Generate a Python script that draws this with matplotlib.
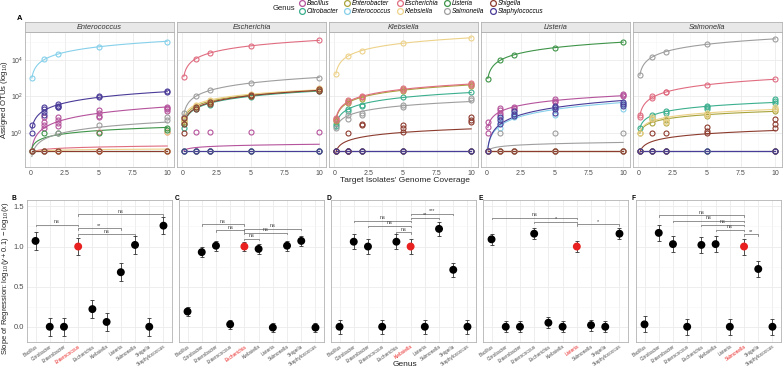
import matplotlib.pyplot as plt
import numpy as np

plt.rcParams['font.family'] = ['Liberation Sans', 'DejaVu Sans']
plt.rcParams['mathtext.fontset'] = 'custom'
plt.rcParams['mathtext.rm'] = 'Liberation Sans'
plt.rcParams['mathtext.it'] = 'Liberation Sans:italic'

genera = ['Bacillus', 'Citrobacter', 'Enterobacter', 'Enterococcus', 'Escherichia',
          'Klebsiella', 'Listeria', 'Salmonella', 'Shigella', 'Staphylococcus']
colors = ['#B5539C', '#3BAF8E', '#A8A33A', '#86D0EA', '#E06C80',
          '#EDD28A', '#3E9448', '#9E9E9E', '#8C3B2E', '#4A3B98']
facets = ['Enterococcus', 'Escherichia', 'Klebsiella', 'Listeria', 'Salmonella']
coverage = [0.1, 1, 2, 5, 10]

# assigned OTUs as log10(y + 0.1); -1 means no reads. One replicate list per coverage.
no_reads = [[-1], [-1], [-1], [-1], [-1]]

otus_enterococcus = {
    'Bacillus': [[-1], [0.85, 0.6, 0.45, 0.3], [0.9, 0.7, 0.55, 0.4], [1.25, 1.1, 0.95, 0.85], [1.45, 1.35, 1.3, 1.2]],
    'Citrobacter': no_reads,
    'Enterobacter': no_reads,
    'Enterococcus': [[3.0], [4.04], [4.33], [4.73], [5.0]],
    'Escherichia': [[-1], [-1], [-1], [-1, -1, 0.04], [-1, -1, 0.04]],
    'Klebsiella': [[-1], [-1], [-1], [-1], [-1, -1, -1, 0.04]],
    'Listeria': [[-1], [0.0], [0.0], [0.0], [0.3, 0.15]],
    'Salmonella': [[-1], [-1], [0.0], [0.45], [0.85, 0.7]],
    'Shigella': no_reads,
    'Staphylococcus': [[0.45, 0.02], [1.4, 1.3, 1.15, 1.0], [1.6, 1.5, 1.45, 1.4], [2.05, 1.95], [2.3, 2.25]],
}
otus_escherichia = {
    'Bacillus': [[-1], [-1, -1, -1, 0.04], [-1, -1, -1, 0.04], [-1, -1, 0.04], [-1, -1, 0.04]],
    'Citrobacter': [[0.5, 0.3], [1.3, 1.4], [1.55, 1.65], [1.95, 2.05], [2.3, 2.35]],
    'Enterobacter': [[0.7, 0.6], [1.4, 1.5], [1.65, 1.75], [2.05, 2.1], [2.35, 2.4]],
    'Enterococcus': no_reads,
    'Escherichia': [[3.09], [4.07], [4.38], [4.78], [5.07]],
    'Klebsiella': [[0.9, 0.7], [1.5, 1.55], [1.8, 1.7], [2.1, 2.15], [2.4, 2.45]],
    'Listeria': no_reads,
    'Salmonella': [[1.09, 0.9], [2.03], [2.34], [2.74], [3.03]],
    'Shigella': [[0.8, 0.5, 0.0], [1.3, 1.45], [1.6, 1.7], [2.0, 2.1], [2.3, 2.4]],
    'Staphylococcus': no_reads,
}
otus_klebsiella = {
    'Bacillus': no_reads,
    'Citrobacter': [[0.5, 0.4], [1.3, 1.2], [1.55, 1.5], [1.96], [2.27]],
    'Enterobacter': [[0.75, 0.65], [1.75, 1.65], [1.95, 1.85], [2.4, 2.3], [2.7, 2.6]],
    'Enterococcus': no_reads,
    'Escherichia': [[0.8, 0.7], [1.8, 1.7], [2.0, 1.95], [2.45, 2.35], [2.72, 2.65]],
    'Klebsiella': [[3.22], [4.22], [4.51], [4.91], [5.22]],
    'Listeria': no_reads,
    'Salmonella': [[0.27], [1.0, 0.75], [1.09, 1.0], [1.55, 1.45], [1.9, 1.8]],
    'Shigella': [[-1, -1], [0.0, -1, -1], [0.5, 0.45, -1], [0.45, 0.3, 0.05, -1], [0.85, 0.7, 0.6, -1]],
    'Staphylococcus': no_reads,
}
otus_listeria = {
    'Bacillus': [[0.6, 0.35, 0.0], [1.35, 1.25, 1.1, 1.0], [1.45, 1.35, 1.27], [1.85, 1.78, 1.72], [2.15, 2.08, 2.03]],
    'Citrobacter': no_reads,
    'Enterobacter': no_reads,
    'Enterococcus': [[-1], [0.8, 0.55, 0.27], [1.1, 1.0, 0.9], [1.45, 1.3, 1.0], [1.65, 1.55, 1.3]],
    'Escherichia': no_reads,
    'Klebsiella': no_reads,
    'Listeria': [[2.98], [3.98], [4.29], [4.67], [4.97]],
    'Salmonella': [[-1], [0.0, -1], [-1], [0.0, -1], [0.0, -1]],
    'Shigella': no_reads,
    'Staphylococcus': [[-1], [0.9, 0.7, 0.5], [1.2, 1.05, 0.95], [1.5, 1.4, 1.3, 1.1], [1.7, 1.6, 1.5]],
}
otus_salmonella = {
    'Bacillus': no_reads,
    'Citrobacter': [[0.27], [1.0, 0.9], [1.2, 1.1], [1.5, 1.4, 1.3], [1.85, 1.75, 1.65]],
    'Enterobacter': [[0.0], [0.75, 0.55], [0.7, 0.55], [1.05, 0.95], [1.3, 1.2]],
    'Enterococcus': no_reads,
    'Escherichia': [[1.0, 0.85], [2.0, 1.92], [2.27, 2.22], [2.63], [2.94]],
    'Klebsiella': [[0.0], [0.9, 0.75], [0.8, 0.6], [1.1, 1.0], [1.4, 1.3]],
    'Listeria': no_reads,
    'Salmonella': [[3.16], [4.16], [4.46], [4.86], [5.15]],
    'Shigella': [[-1], [0.0, -1], [0.0, -1], [0.35, 0.1, 0.0], [0.75, 0.5, 0.3, -1]],
    'Staphylococcus': no_reads,
}
otus_by_facet = [otus_enterococcus, otus_escherichia, otus_klebsiella, otus_listeria, otus_salmonella]

# regression slopes (normalised to the facet's own genus) with error bars
slope_B = [1.07, 0.0, 0.0, 1.0, 0.22, 0.06, 0.68, 1.02, 0.0, 1.26]
slope_C = [0.19, 0.93, 1.01, 0.03, 1.0, 0.97, -0.01, 1.01, 1.07, -0.01]
slope_D = [0.0, 1.06, 1.0, 0.0, 1.06, 1.0, 0.0, 1.22, 0.71, 0.0]
slope_E = [1.09, 0.0, 0.0, 1.16, 0.05, 0.0, 1.0, 0.02, 0.0, 1.16]
slope_F = [0.03, 1.17, 1.03, 0.0, 1.02, 1.03, 0.0, 1.0, 0.72, 0.0]
err_B, err_C, err_D, err_E, err_F = 0.11, 0.06, 0.09, 0.07, 0.10

brackets_B = [('Bacillus', 'Enterococcus', 1.27, 'ns'), ('Enterococcus', 'Staphylococcus', 1.40, 'ns'),
              ('Enterococcus', 'Listeria', 1.23, '**'), ('Enterococcus', 'Salmonella', 1.15, 'ns')]
brackets_C = [('Citrobacter', 'Escherichia', 1.28, 'ns'), ('Enterobacter', 'Escherichia', 1.20, 'ns'),
              ('Escherichia', 'Shigella', 1.22, 'ns'), ('Escherichia', 'Salmonella', 1.17, 'ns'),
              ('Escherichia', 'Klebsiella', 1.10, 'ns')]
brackets_D = [('Citrobacter', 'Klebsiella', 1.32, 'ns'), ('Enterobacter', 'Klebsiella', 1.26, 'ns'),
              ('Escherichia', 'Klebsiella', 1.18, 'ns'), ('Klebsiella', 'Salmonella', 1.36, '**'),
              ('Klebsiella', 'Shigella', 1.41, '***')]
brackets_E = [('Bacillus', 'Listeria', 1.36, 'ns'), ('Enterococcus', 'Listeria', 1.31, '*'),
              ('Listeria', 'Staphylococcus', 1.28, '*')]
brackets_F = [('Citrobacter', 'Salmonella', 1.39, 'ns'), ('Enterobacter', 'Salmonella', 1.32, 'ns'),
              ('Escherichia', 'Salmonella', 1.27, 'ns'), ('Klebsiella', 'Salmonella', 1.21, 'ns'),
              ('Salmonella', 'Shigella', 1.15, '**')]

W, H = 784, 371
fig = plt.figure(figsize=(W / 100, H / 100), dpi=100)

def px_axes(x0, y0, w, h):
    return fig.add_axes([x0 / W, 1 - (y0 + h) / H, w / W, h / H])

frame_col = '#B3B3B3'
grid_col = '#EBEBEB'
txt_col = '#4D4D4D'

# ---- panel A ----
lefts = [25, 177, 329, 481, 633]
logcov = np.log10(coverage)
xx = np.linspace(0.1, 10, 300)
for i, (left, name, data) in enumerate(zip(lefts, facets, otus_by_facet)):
    ax = px_axes(left, 32, 149, 135)
    for g, c in zip(genera, colors):
        reps = data[g]
        for cov, r in zip(coverage, reps):
            ax.plot([cov] * len(r), r, 'o', mfc='none', mec=c, ms=3.6, mew=0.8, zorder=3)
        means = [np.mean(r) for r in reps]
        b, a = np.polyfit(logcov, means, 1)
        ax.plot(xx, a + b * np.log10(xx), color=c, lw=0.8, zorder=2)
    ax.set_xlim(-0.4, 10.5)
    ax.set_ylim(-1.86, 5.53)
    ax.set_xticks([0, 2.5, 5, 7.5, 10])
    ax.set_xticklabels(['0', '2.5', '5', '7.5', '10'])
    ax.set_yticks([0, 2, 4])
    ax.set_yticks([-1, 1, 3, 5], minor=True)
    ax.set_xticks([1.25, 3.75, 6.25, 8.75], minor=True)
    if i == 0:
        ax.set_yticklabels(['$10^0$', '$10^2$', '$10^4$'])
    else:
        ax.set_yticklabels([])
    ax.tick_params(which='both', length=0, labelsize=5, colors=txt_col, pad=2)
    ax.tick_params(axis='y', labelsize=5, pad=1.5)
    ax.grid(which='major', color=grid_col, lw=0.6)
    ax.grid(which='minor', color='#F5F5F5', lw=0.4)
    ax.set_axisbelow(True)
    for s in ax.spines.values():
        s.set_color(frame_col)
        s.set_linewidth(0.6)
    strip = px_axes(left, 22, 149, 10)
    strip.set_facecolor('#E8E8E8')
    strip.set_xticks([])
    strip.set_yticks([])
    for s in strip.spines.values():
        s.set_color(frame_col)
        s.set_linewidth(0.6)
    strip.text(0.5, 0.45, name, ha='center', va='center', fontsize=5.3, style='italic',
               color='#333333', transform=strip.transAxes)

fig.text(20 / W, 1 - 18 / H, 'A', fontsize=5.5, fontweight='bold', ha='center', va='center')
fig.text(5 / W, 1 - 100 / H, 'Assigned OTUs (log$_{10}$)', rotation=90, fontsize=5.5,
         ha='center', va='center', color='#222222')
fig.text(405 / W, 1 - 181 / H, "Target Isolates' Genome Coverage", fontsize=6,
         ha='center', va='center', color='#222222')

handles = [plt.Line2D([], [], ls='none', marker='o', mfc='none', mec=c, ms=4.2, mew=0.9)
           for c in colors]
fig.legend(handles, genera, ncol=5, loc='upper left', bbox_to_anchor=(293 / W, 1.012),
           frameon=False, prop={'style': 'italic', 'size': 4.7}, handletextpad=0.15,
           columnspacing=0.6, labelspacing=0.15, handlelength=1.3, borderpad=0.2)
fig.text(273 / W, 1 - 8 / H, 'Genus', fontsize=5.5, ha='left', va='center', color='#222222')

# ---- panels B-F ----
slopes = [slope_B, slope_C, slope_D, slope_E, slope_F]
errs = [err_B, err_C, err_D, err_E, err_F]
brackets = [brackets_B, brackets_C, brackets_D, brackets_E, brackets_F]
letters = ['B', 'C', 'D', 'E', 'F']
blefts = [27, 179, 331, 483, 636]
letter_x = [14, 177, 329, 481, 634]
pos = np.arange(1, len(genera) + 1)
for i in range(5):
    ax = px_axes(blefts[i], 200, 145, 142)
    ref = genera.index(facets[i])
    ax.errorbar(pos, slopes[i], yerr=errs[i], fmt='none', ecolor='#333333', elinewidth=0.6,
                capsize=1.5, capthick=0.6, zorder=3)
    pcols = ['#E8201F' if k == ref else 'black' for k in range(len(genera))]
    ax.scatter(pos, slopes[i], s=22, c=pcols, zorder=4)
    for g1, g2, hgt, lab in brackets[i]:
        x1, x2 = genera.index(g1) + 1, genera.index(g2) + 1
        ax.plot([x1, x1, x2, x2], [hgt - 0.02, hgt, hgt, hgt - 0.02], color='#666666', lw=0.5)
        ax.text((x1 + x2) / 2, hgt + 0.005, lab, ha='center', va='bottom', fontsize=4, color='#444444')
    ax.set_xlim(0.4, 10.6)
    ax.set_ylim(-0.19, 1.58)
    ax.set_yticks([0, 0.5, 1.0, 1.5])
    ax.set_yticks([0.25, 0.75, 1.25], minor=True)
    ax.set_xticks(pos)
    ax.set_xticklabels(genera, rotation=35, ha='right', rotation_mode='anchor')
    for k, lab in enumerate(ax.get_xticklabels()):
        lab.set_color('#E8201F' if k == ref else txt_col)
    if i == 0:
        ax.set_yticklabels(['0.0', '0.5', '1.0', '1.5'])
    else:
        ax.set_yticklabels([])
    ax.tick_params(axis='x', length=0, labelsize=3.4, pad=1.5)
    ax.tick_params(axis='y', which='both', length=0, labelsize=5.5, colors=txt_col, pad=2)
    ax.grid(which='major', color=grid_col, lw=0.6)
    ax.grid(which='minor', color='#F5F5F5', lw=0.4)
    ax.set_axisbelow(True)
    for s in ax.spines.values():
        s.set_color(frame_col)
        s.set_linewidth(0.6)
    fig.text(letter_x[i] / W, 1 - 199 / H, letters[i], fontsize=4.8, fontweight='bold',
             ha='center', va='center')

fig.text(6 / W, 1 - 278 / H, 'Slope of Regression: $\\log_{10}(y+0.1)\\,-\\,\\log_{10}(x)$',
         rotation=90, fontsize=5.5, ha='center', va='center', color='#222222')
fig.text(405 / W, 1 - 365 / H, 'Genus', fontsize=6, ha='center', va='center', color='#222222')

fig.savefig('out.png', dpi=100)
